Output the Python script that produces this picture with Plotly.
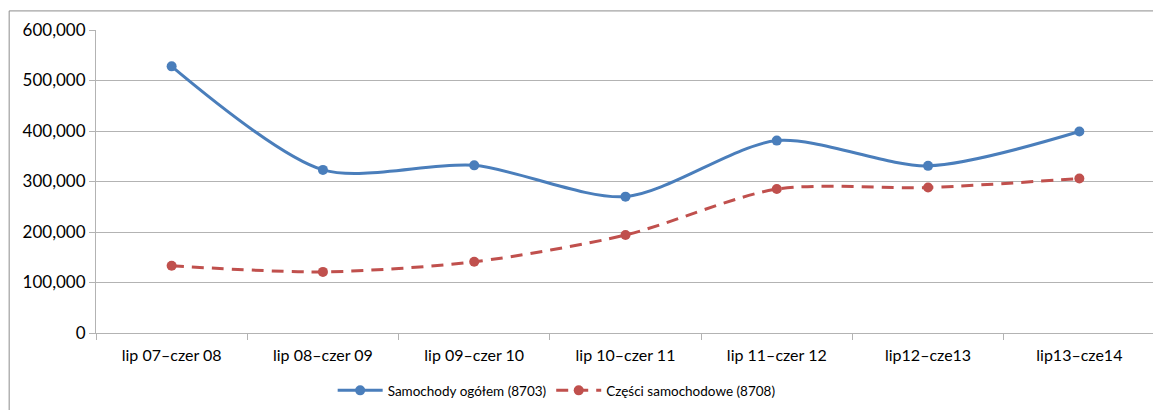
import plotly.graph_objects as go

periods = ['lip 07\u2013czer 08', 'lip 08\u2013czer 09', 'lip 09\u2013czer 10', 'lip 10\u2013czer 11',
           'lip 11\u2013czer 12', 'lip12\u2013cze13', 'lip13\u2013cze14']
samochody = [528000, 323000, 332000, 270000, 381000, 331000, 399000]
czesci = [133000, 121000, 141000, 194000, 285000, 288000, 306000]

BLUE = '#4a7ebb'
RED = '#c0504d'
GRID = '#b3b3b3'

fig = go.Figure()
fig.add_trace(go.Scatter(x=periods, y=samochody, name='Samochody ogółem (8703)',
                         mode='lines+markers', line=dict(color=BLUE, width=3, shape='spline', smoothing=0.8),
                         marker=dict(size=10, color=BLUE)))
fig.add_trace(go.Scatter(x=periods, y=czesci, name='Części samochodowe (8708)',
                         mode='lines+markers', line=dict(color=RED, width=3, dash='12px,8px', shape='spline', smoothing=0.8),
                         marker=dict(size=10, color=RED)))

# page body has an 8px margin, so the figure is 8px smaller than the window
fig.update_layout(
    width=1153, height=402,
    margin=dict(l=88, r=6, t=22, b=77, autoexpand=False),
    paper_bgcolor='white', plot_bgcolor='white',
    font=dict(family='Lato, Open Sans, sans-serif', size=14, color='#000000'),
    showlegend=True,
    legend=dict(orientation='h', x=0.435, xanchor='center', y=-0.19, yanchor='middle',
                font=dict(size=13.5), itemwidth=45),
    # outer chart frame
    shapes=[dict(type='rect', xref='paper', yref='paper', x0=-0.082, x1=1.02, y0=-0.3, y1=1.063,
                 line=dict(color='#8c8c8c', width=1), layer='below')],
)
fig.update_xaxes(showgrid=False, showline=True, linecolor=GRID, linewidth=1, automargin=False,
                 ticks='outside', tickson='boundaries', ticklen=6, tickcolor=GRID,
                 ticklabelstandoff=8, range=[-0.5, 6.5], tickfont=dict(size=16))
fig.update_yaxes(range=[0, 600000], dtick=100000, tickformat=',', showgrid=True, automargin=False,
                 gridcolor=GRID, gridwidth=1, showline=True, linecolor=GRID, linewidth=1,
                 ticks='outside', ticklen=6, tickcolor=GRID, zeroline=False,
                 tickfont=dict(size=17))

fig.write_html('out.html')
